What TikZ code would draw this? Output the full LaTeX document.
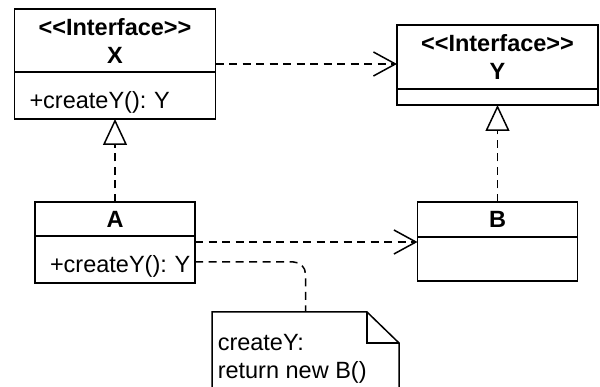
\documentclass[tikz,border=0pt]{standalone}
\usepackage{fontspec}
\setmainfont{Liberation Sans}
\usetikzlibrary{positioning, arrows.meta}

\begin{document}
\frenchspacing
\begin{tikzpicture}[x=1pt, y=-1pt, line width=1.5pt,
    every node/.style={font=\fontsize{23.5}{28}\selectfont},
    head/.style={draw, rectangle, align=center, inner sep=0pt, outer sep=0pt,
                 font=\fontsize{23.5}{28}\selectfont\bfseries},
    body/.style={draw, rectangle, inner xsep=15pt, inner ysep=0pt, outer sep=0pt,
                 align=left, text height=27pt, text depth=0pt},
    depend/.style={dash pattern=on 8pt off 5.5pt,
                   -{Straight Barb[length=22pt, width=24pt]}},
    realize/.style={dash pattern=on 8pt off 5.5pt,
                    -{Triangle[open, length=26pt, width=24pt]}},
    noteline/.style={dash pattern=on 8pt off 5.5pt, rounded corners=12pt}]
    \useasboundingbox (0,0) rectangle (600,387);

    % Interface X (top left)
    \node[head, minimum width=201pt, minimum height=63pt] (Xh) at (115,40.5) {<{}<Interface>{}>\\X};
    \node[body, text width=171pt, minimum height=47pt, below=0pt of Xh] (Xb) {+createY():~Y};

    % Interface Y (top right)
    \node[head, minimum width=201pt, minimum height=64pt] (Yh) at (497.5,57) {<{}<Interface>{}>\\Y};
    \node[body, text width=171pt, minimum height=16pt, text height=0pt, below=0pt of Yh] (Yb) {};

    % Class A, implements X
    \node[head, minimum width=160pt, minimum height=34pt] (Ah) at (115,219) {A};
    \node[body, text width=130pt, minimum height=47pt, below=0pt of Ah] (Ab) {+createY():~Y};

    % Class B, implements Y
    \node[head, minimum width=160pt, minimum height=35pt] (Bh) at (497.5,219.5) {B};
    \node[body, text width=130pt, minimum height=44pt, text height=0pt, below=0pt of Bh] (Bb) {};

    % Note on createY (runs off the bottom edge)
    \node[minimum width=187pt, minimum height=75pt, inner sep=0pt, outer sep=0pt,
          anchor=north west] (note) at (212,312) {};
    \node[anchor=base west, align=left, inner sep=0pt] (notetext) at (217,378) {createY:\\return new B()};
    \draw (note.south west) -- (note.north west) -- ([xshift=-32pt]note.north east)
          -- ([yshift=-31pt]note.north east) -- (note.south east);
    \draw ([xshift=-32pt]note.north east) |- ([yshift=-31pt]note.north east);

    % Dependencies
    \draw[depend] ([yshift=-7pt]Yh.west -| Xh.east) -- ([yshift=-7pt]Yh.west);
    \draw[depend] ([yshift=-6pt]Ab.north east) -- ([yshift=-6pt]Ab.north east -| Bb.west);

    % Realizations
    \draw[realize] (Ah.north) -- (Xb.south);
    \draw[realize] (Bh.north) -- (Yb.south);

    % Note link
    \draw[noteline] ([yshift=-2.5pt]Ab.east) -| (note.north);
\end{tikzpicture}
\end{document}
